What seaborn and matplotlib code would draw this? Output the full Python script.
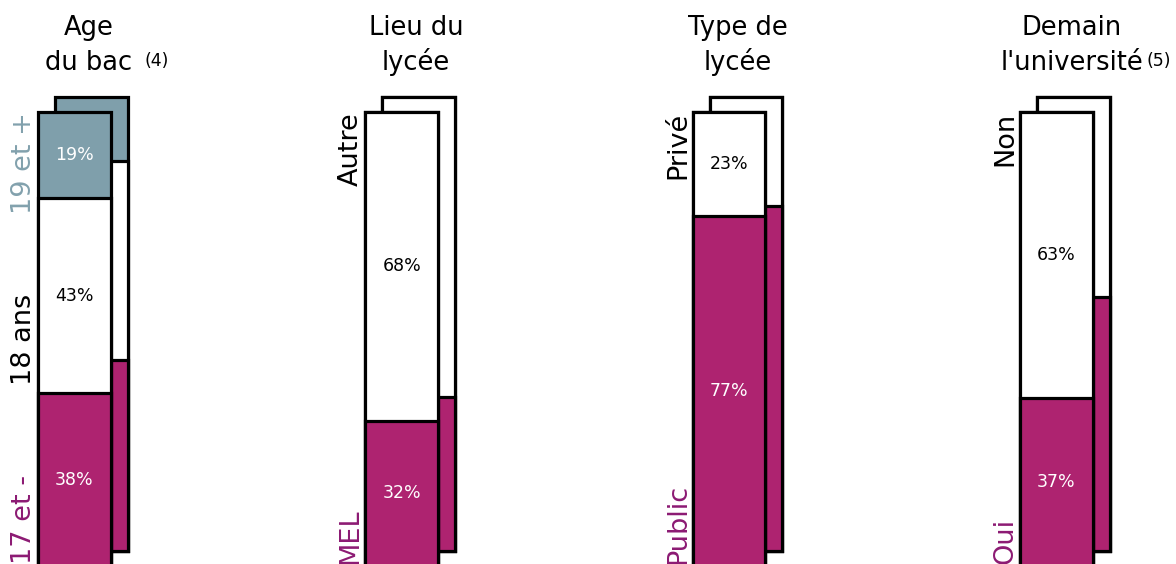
import matplotlib
matplotlib.use("Agg")
import matplotlib.pyplot as plt
import seaborn as sns

# Data (percent, stacked bottom -> top)
groups = ["Age", "Lieu", "Type", "Univ"]
front_bottom = [38, 32, 77, 37]
front_middle = [43, 68, 23, 63]
front_top = [19, 0, 0, 0]
back_bottom = [42, 34, 76, 56]
back_middle = [44, 66, 24, 44]
back_top = [14, 0, 0, 0]

title_line1 = ["Age", "Lieu du", "Type de", "Demain"]
title_line2 = ["du bac", "lycée", "lycée", "l'université"]
title_notes = ["(4)", "", "", "(5)"]
label_top = ["19 et +", "Autre", "Privé", "Non"]
label_bottom = ["17 et -", "MEL", "Public", "Oui"]
label_mid = ["18 ans", "", "", ""]

MAGENTA = "#ae2370"
GRAY = "#7f9fab"
PURPLE_TXT = "#8c1a73"
GRAY_TXT = "#82a1ad"

sns.set_theme(style="white")
plt.rcParams["font.family"] = ["DejaVu Sans"]

W, H = 1176, 564
fig = plt.figure(figsize=(W / 100, H / 100), dpi=100)

spacing = 327.3
x0 = 74.5
xlim = (-x0 / spacing, (W - x0) / spacing)
bar_h = 454 / H


def draw_stack(ax, bottom, middle, top):
    cum1 = list(bottom)
    cum2 = [b + m for b, m in zip(bottom, middle)]
    cum3 = [c + t for c, t in zip(cum2, top)]
    top_cols = {g: (GRAY if t > 0 else "white") for g, t in zip(groups, top)}
    layers = [
        (cum3, top_cols),
        (cum2, {g: "white" for g in groups}),
        (cum1, {g: MAGENTA for g in groups}),
    ]
    for vals, pal in layers:
        sns.barplot(x=groups, y=vals, hue=groups, palette=pal, legend=False,
                    width=0.222, edgecolor="black", linewidth=2.3,
                    saturation=1, ax=ax)
    for p in ax.patches:
        p.set_clip_on(False)
    ax.set_xlim(*xlim)
    ax.set_ylim(0, 100)
    ax.set_axis_off()


ax_back = fig.add_axes([17 / W, (H - 551) / H, 1, bar_h])
draw_stack(ax_back, back_bottom, back_middle, back_top)

ax = fig.add_axes([0, (H - 566) / H, 1, bar_h])
ax.patch.set_alpha(0)
draw_stack(ax, front_bottom, front_middle, front_top)

# percent labels inside the front bars
for i in range(len(groups)):
    b, m, t = front_bottom[i], front_middle[i], front_top[i]
    ax.text(i, b / 2, f"{b}%", ha="center", va="center", color="white",
            fontsize=12.5)
    ax.text(i, b + m / 2, f"{m}%", ha="center", va="center", color="black",
            fontsize=12.5)
    if t > 0:
        ax.text(i, b + m + t / 2, f"{t}%", ha="center", va="center",
                color="white", fontsize=12.5)

# side labels
for i in range(len(groups)):
    lx = i - 0.116
    top_col = GRAY_TXT if front_top[i] > 0 else "black"
    ax.text(lx, 100, label_top[i], rotation=90, ha="right", va="top",
            color=top_col, fontsize=19.5, clip_on=False)
    ax.text(lx, 0.5, label_bottom[i], rotation=90, ha="right", va="bottom",
            color=PURPLE_TXT, fontsize=19.5, clip_on=False)
    if label_mid[i]:
        ax.text(lx, 50, label_mid[i], rotation=90, ha="right", va="center",
                color="black", fontsize=19.5, clip_on=False)

# titles
title_cx = [89, 416, 738, 1072]
note_x = [145, None, None, 1146]
for i in range(len(groups)):
    fig.text(title_cx[i] / W, 1 - 35 / H, title_line1[i], ha="center",
             va="baseline", fontsize=18.5, color="black")
    fig.text(title_cx[i] / W, 1 - 70 / H, title_line2[i], ha="center",
             va="baseline", fontsize=18.5, color="black")
    if title_notes[i]:
        fig.text(note_x[i] / W, 1 - 66 / H, title_notes[i], ha="left",
                 va="baseline", fontsize=12.5, color="black")

fig.savefig("out.png", dpi=100)
plt.close(fig)
